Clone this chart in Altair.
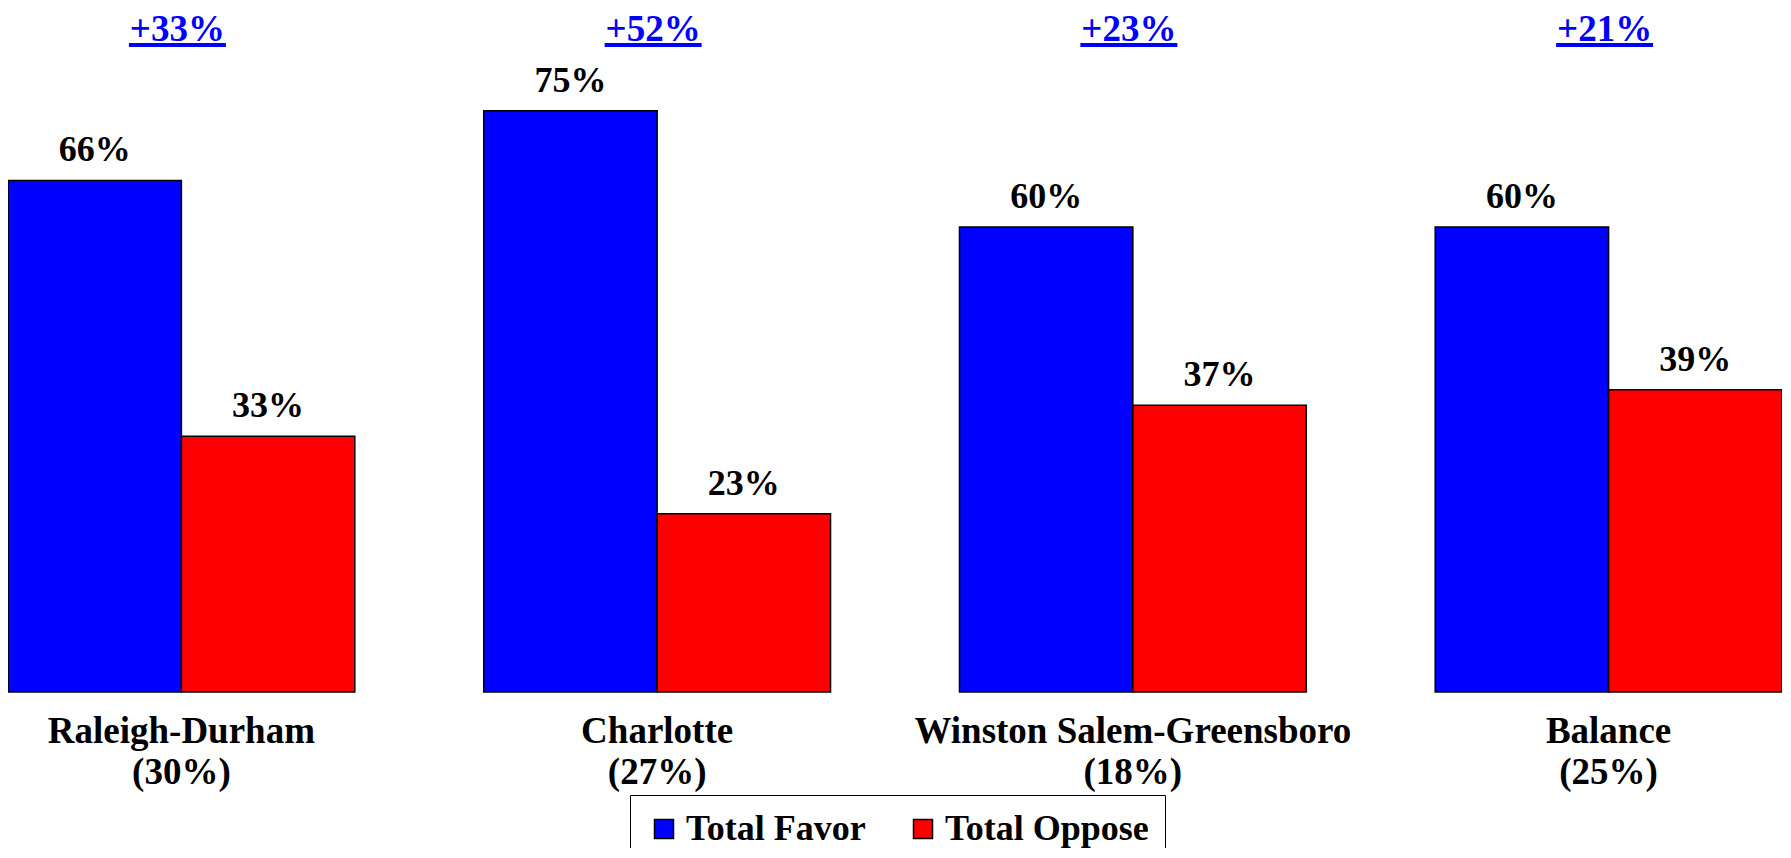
import altair as alt
import pandas as pd

# ---- data ----
regions = ["Raleigh-Durham", "Charlotte", "Winston Salem-Greensboro", "Balance"]
shares = ["(30%)", "(27%)", "(18%)", "(25%)"]
favor = [66, 75, 60, 60]
oppose = [33, 23, 37, 39]
series = ["Total Favor", "Total Oppose"]
colors = ["#0000FF", "#FF0000"]

labels = [f"{r}|{s}" for r, s in zip(regions, shares)]

rows = []
for lab, f, o in zip(labels, favor, oppose):
    rows.append({"region": lab, "series": series[0], "value": f})
    rows.append({"region": lab, "series": series[1], "value": o})
bars_df = pd.DataFrame(rows)
lead_df = pd.DataFrame({"region": labels,
                        "lead": [f"+{f - o}%" for f, o in zip(favor, oppose)]})

FONT = "Liberation Serif"
W, H = 1774, 678
YMAX = 87.48

x_enc = alt.X(
    "region:N", sort=labels,
    scale=alt.Scale(paddingInner=0.271, paddingOuter=0),
    axis=alt.Axis(title=None, labelExpr="split(datum.label, '|')",
                  ticks=False, domain=False, labelAngle=0,
                  labelFont=FONT, labelFontSize=37, labelFontWeight="bold",
                  labelColor="black", labelBaseline="alphabetic",
                  labelPadding=50, labelLineHeight=41, labelLimit=0,
                  labelOverlap=False, labelBound=False, labelFlush=False),
)
xo_enc = alt.XOffset("series:N", sort=series,
                     scale=alt.Scale(paddingInner=0, paddingOuter=0))
y_enc = alt.Y("value:Q", scale=alt.Scale(domain=[0, YMAX], nice=False, zero=True),
              axis=None)

bars = alt.Chart(bars_df).mark_bar(stroke="black", strokeWidth=1.5).encode(
    x=x_enc, xOffset=xo_enc, y=y_enc,
    color=alt.Color("series:N", scale=alt.Scale(domain=series, range=colors),
                    legend=alt.Legend(
                        title=None, orient="none", legendX=622, legendY=781,
                        direction="horizontal", symbolType="square",
                        symbolSize=361, symbolStrokeColor="black",
                        symbolStrokeWidth=1.5, labelFont=FONT, labelFontSize=36,
                        labelFontWeight="bold", labelColor="black",
                        labelOffset=4, columnPadding=39, padding=16,
                        strokeColor="black", fillColor="white", labelLimit=0)),
)

values = alt.Chart(bars_df).transform_calculate(
    label="datum.value + '%'"
).mark_text(font=FONT, fontSize=36, fontWeight="bold", color="black",
            baseline="alphabetic", dy=-19).encode(
    x=x_enc, xOffset=xo_enc, y=y_enc, text="label:N"
)

lead = alt.Chart(lead_df).mark_text(
    font=FONT, fontSize=37, fontWeight="bold", color="#0000FF",
    baseline="alphabetic", dx=-4
).encode(x=alt.X("region:N", sort=labels), y=alt.value(27), text="lead:N")

underline = alt.Chart(lead_df).mark_bar(width=97, color="#0000FF", xOffset=-4).encode(
    x=alt.X("region:N", sort=labels), y=alt.value(29), y2=alt.value(33)
)

chart = alt.layer(bars, values, lead, underline).properties(
    width=W, height=H,
    autosize=alt.AutoSizeParams(type="none"),
    padding={"left": 0, "top": 6, "right": 0, "bottom": 156},
).configure_view(stroke=None)

chart.save("out.html", embed_options={"renderer": "svg", "actions": False})
